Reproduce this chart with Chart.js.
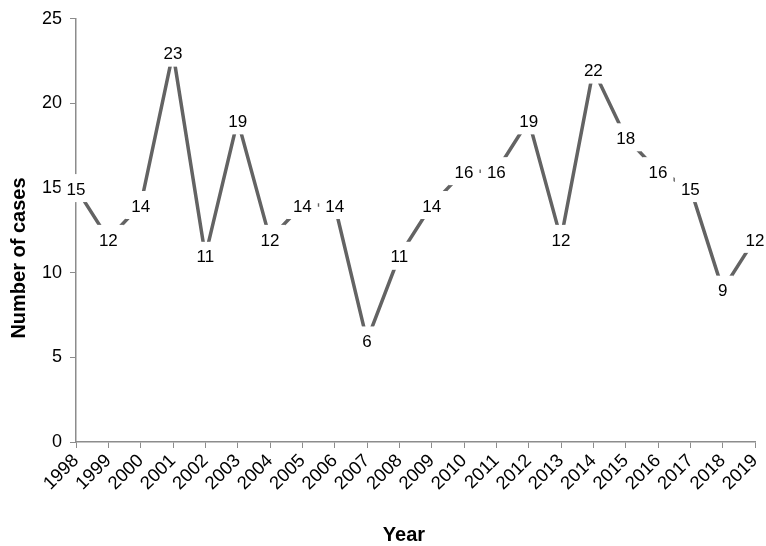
<!DOCTYPE html>
<html>
<head>
<meta charset="utf-8">
<script src="https://cdn.jsdelivr.net/npm/chart.js@4"></script>
<style>
  html, body { margin:0; padding:0; background:#fff; }
  #wrap { width:766px; height:546px; }
</style>
</head>
<body>
<div id="wrap"><canvas id="casesChart" width="766" height="546"></canvas></div>
<script>
var years = ['1998','1999','2000','2001','2002','2003','2004','2005','2006','2007','2008',
             '2009','2010','2011','2012','2013','2014','2015','2016','2017','2018','2019'];
var cases = [15,12,14,23,11,19,12,14,14,6,11,14,16,16,19,12,22,18,16,15,9,12];
var yTicks = [0,5,10,15,20,25];
var xTitle = 'Year';
var yTitle = 'Number of cases';

var FONT = 'Arial, "Liberation Sans", sans-serif';
var axisGrey = '#8c8c8c';

// labels sitting on each point, on a white box that hides the line under it
var pointLabels = {
    id: 'pointLabels',
    afterDatasetsDraw: function (chart) {
        var ctx = chart.ctx;
        var meta = chart.getDatasetMeta(0);
        ctx.save();
        ctx.font = '17px ' + FONT;
        ctx.textAlign = 'center';
        ctx.textBaseline = 'middle';
        meta.data.forEach(function (pt, i) {
            var txt = String(cases[i]);
            var w = ctx.measureText(txt).width + 12;
            var h = 28;
            ctx.fillStyle = '#fff';
            ctx.fillRect(pt.x - w/2, pt.y - h/2, w, h);
            ctx.fillStyle = '#000';
            ctx.fillText(txt, pt.x, pt.y + 2);
        });
        ctx.restore();
    }
};

// axis titles, placed like the original (a bit off the chart-area centre)
var axisTitles = {
    id: 'axisTitles',
    afterDraw: function (chart) {
        var ctx = chart.ctx;
        ctx.save();
        ctx.fillStyle = '#000';
        ctx.font = 'bold 20px ' + FONT;
        ctx.textAlign = 'center';
        ctx.textBaseline = 'middle';
        ctx.fillText(xTitle, 404, 535);
        ctx.translate(19, 258);
        ctx.rotate(-Math.PI / 2);
        ctx.fillText(yTitle, 0, 0);
        ctx.restore();
    }
};

new Chart(document.getElementById('casesChart'), {
    type: 'line',
    data: {
        labels: years,
        datasets: [{ data: cases, borderColor: '#636363', borderWidth: 3.5,
            pointRadius: 0, tension: 0, fill: false }]
    },
    options: {
        responsive: false, animation: false,
        layout: { padding: { left: 0, right: 11, top: 15, bottom: 0 } },
        plugins: { legend: { display: false }, tooltip: { enabled: false } },
        scales: {
            x: {
                offset: false,
                grid: { display: true, drawOnChartArea: false, drawTicks: true, tickLength: 6, color: axisGrey },
                border: { color: axisGrey, width: 1.5 },
                ticks: { color: '#000', font: { size: 18.5, family: FONT }, minRotation: 45, maxRotation: 45,
                         autoSkip: false, padding: 2 },
                afterFit: function (s) { s.height = 104; s.paddingRight = 0; s.paddingLeft = 0; }
            },
            y: {
                min: 0, max: 25,
                afterBuildTicks: function (s) { s.ticks = yTicks.map(function (v) { return { value: v }; }); },
                grid: { display: true, drawOnChartArea: false, drawTicks: true, tickLength: 6, color: axisGrey },
                border: { color: axisGrey, width: 1.5 },
                ticks: { color: '#000', font: { size: 18, family: FONT }, padding: 8 },
                afterFit: function (s) { s.width = 76; }
            }
        }
    },
    plugins: [pointLabels, axisTitles]
});
</script>
</body>
</html>
